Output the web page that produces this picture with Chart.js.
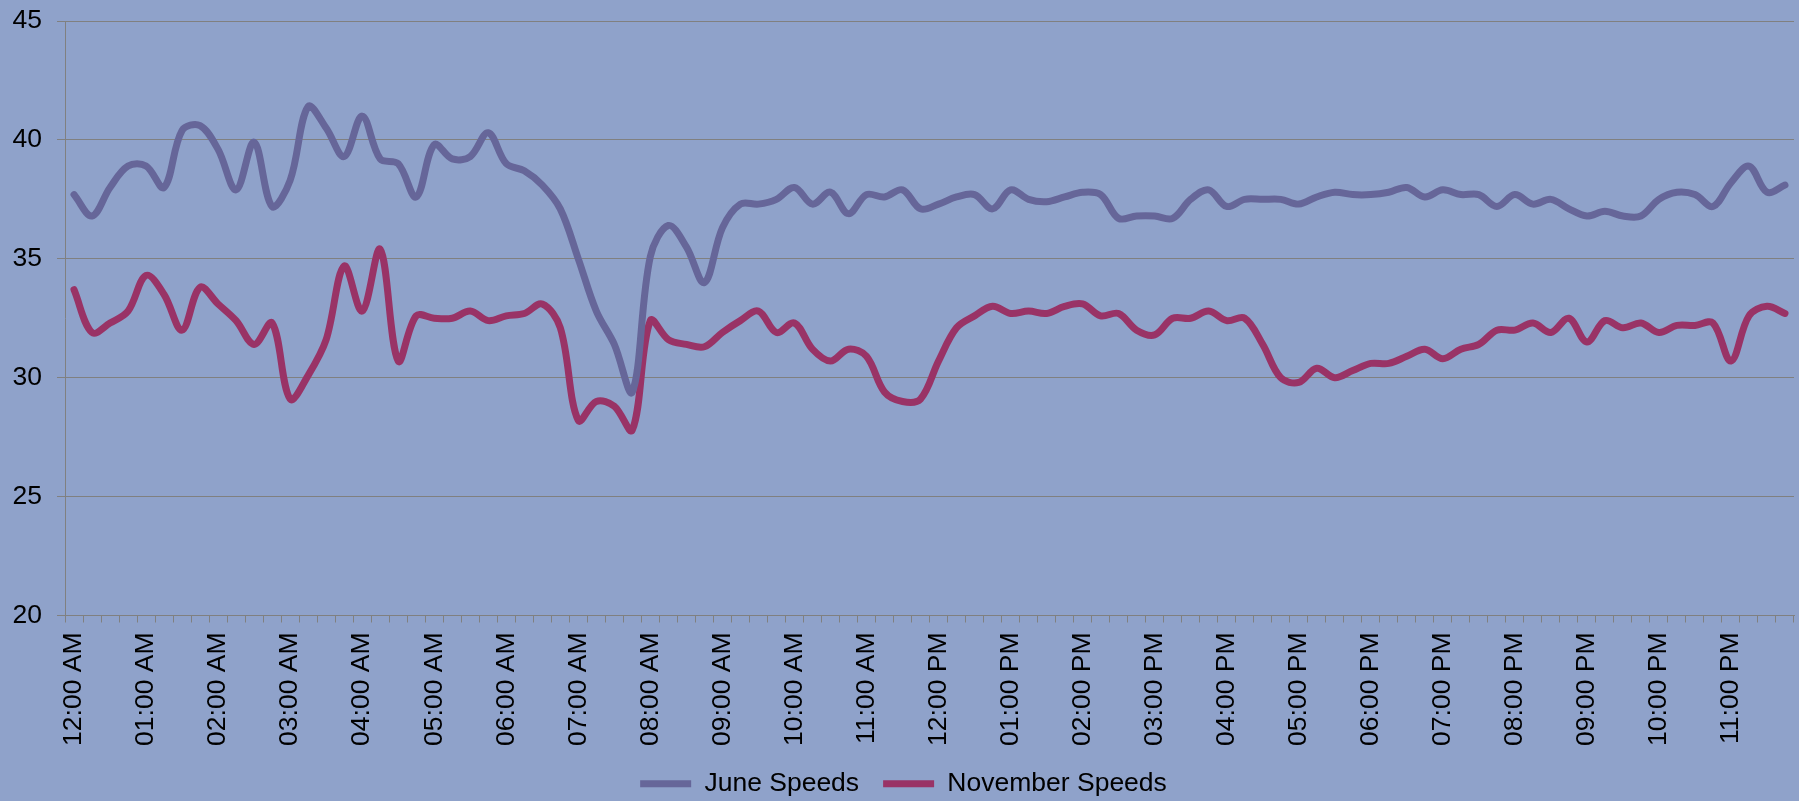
<!DOCTYPE html>
<html>
<head>
<meta charset="utf-8">
<script src="https://cdn.jsdelivr.net/npm/chart.js@4.4.1/dist/chart.umd.min.js"></script>
<style>
  html, body { margin: 0; padding: 0; background: #8fa2ca; }
  #speeds { display: block; }
</style>
</head>
<body>
<canvas id="speeds" width="1799" height="801"></canvas>
<script>
// hour labels shown on the x axis; data is every 15 minutes (4 points per hour)
const hourLabels = ['12:00 AM', '01:00 AM', '02:00 AM', '03:00 AM', '04:00 AM', '05:00 AM',
  '06:00 AM', '07:00 AM', '08:00 AM', '09:00 AM', '10:00 AM', '11:00 AM',
  '12:00 PM', '01:00 PM', '02:00 PM', '03:00 PM', '04:00 PM', '05:00 PM',
  '06:00 PM', '07:00 PM', '08:00 PM', '09:00 PM', '10:00 PM', '11:00 PM'];

const juneSpeeds = [
  37.7, 36.8, 38.0, 38.9, 38.9, 38.0, 40.4, 40.6, 39.6, 37.9,
  39.9, 37.2, 38.3, 41.4, 40.5, 39.3, 41.0, 39.2, 39.0, 37.6,
  39.8, 39.2, 39.3, 40.3, 39.0, 38.7, 38.1, 37.1, 35.0, 32.8,
  31.4, 29.4, 35.1, 36.4, 35.5, 34.0, 36.3, 37.3, 37.3, 37.5,
  38.0, 37.3, 37.8, 36.9, 37.7, 37.6, 37.9, 37.1, 37.3, 37.6,
  37.7, 37.1, 37.9, 37.5, 37.4, 37.6, 37.8, 37.7, 36.7, 36.8,
  36.8, 36.7, 37.5, 37.9, 37.2, 37.5, 37.5, 37.5, 37.3, 37.6,
  37.8, 37.7, 37.7, 37.8, 38.0, 37.6, 37.9, 37.7, 37.7, 37.2,
  37.7, 37.3, 37.5, 37.1, 36.8, 37.0, 36.8, 36.8, 37.5, 37.8,
  37.7, 37.2, 38.2, 38.9, 37.8, 38.1
];

const novemberSpeeds = [
  33.7, 31.9, 32.3, 32.8, 34.3, 33.5, 32.0, 33.8, 33.1, 32.4,
  31.4, 32.3, 29.1, 30.1, 31.6, 34.7, 32.8, 35.4, 30.7, 32.6,
  32.5, 32.5, 32.8, 32.4, 32.6, 32.7, 33.1, 32.1, 28.2, 29.0,
  28.8, 27.8, 32.4, 31.6, 31.4, 31.3, 31.9, 32.4, 32.8, 31.9,
  32.3, 31.2, 30.7, 31.2, 30.9, 29.4, 29.0, 29.1, 30.7, 32.1,
  32.6, 33.0, 32.7, 32.8, 32.7, 33.0, 33.1, 32.6, 32.7, 32.0,
  31.8, 32.5, 32.5, 32.8, 32.4, 32.5, 31.4, 30.0, 29.8, 30.4,
  30.0, 30.3, 30.6, 30.6, 30.9, 31.2, 30.8, 31.2, 31.4, 32.0,
  32.0, 32.3, 31.9, 32.5, 31.5, 32.4, 32.1, 32.3, 31.9, 32.2,
  32.2, 32.3, 30.7, 32.6, 33.0, 32.7
];

const yMin = 20, yMax = 45, yStep = 5;

// one category per quarter hour, only the full hour carries a label
const labels = hourLabels.flatMap(h => [h, '', '', '']);

const gridGray = '#808080';
const font = { family: '"Liberation Sans", Arial, sans-serif', size: 26.5 };

const speedsChart = new Chart(document.getElementById('speeds'), {
  type: 'line',
  data: {
    labels: labels,
    datasets: [{
      label: 'June Speeds',
      data: juneSpeeds,
      borderColor: '#666699',
      backgroundColor: '#666699',
      borderWidth: 7,
      borderCapStyle: 'round',
      borderJoinStyle: 'round',
      pointRadius: 0,
      pointStyle: 'line',
      tension: 0.35,
      fill: false
    }, {
      label: 'November Speeds',
      data: novemberSpeeds,
      borderColor: '#993366',
      backgroundColor: '#993366',
      borderWidth: 7,
      borderCapStyle: 'round',
      borderJoinStyle: 'round',
      pointRadius: 0,
      pointStyle: 'line',
      tension: 0.35,
      fill: false
    }]
  },
  options: {
    responsive: false,
    animation: false,
    devicePixelRatio: 1,
    layout: { padding: { left: 13, right: 5, top: 21, bottom: -6 } },
    plugins: {
      tooltip: { enabled: false },
      legend: {
        position: 'bottom',
        labels: {
          usePointStyle: true,
          pointStyle: 'line',
          pointStyleWidth: 51,
          color: '#000',
          font: font,
          padding: 24
        }
      }
    },
    scales: {
      x: {
        offset: true,
        border: { color: gridGray, width: 1 },
        grid: {
          offset: true,
          drawOnChartArea: false,
          drawTicks: true,
          tickLength: 7,
          color: gridGray
        },
        ticks: {
          autoSkip: false,
          minRotation: 90,
          maxRotation: 90,
          padding: 10,
          color: '#000',
          font: font
        },
        afterFit: (s) => { s.paddingLeft = 0; s.paddingRight = 0; s.height = 131; }
      },
      y: {
        min: yMin,
        max: yMax,
        border: { color: gridGray, width: 1 },
        grid: { color: gridGray, tickLength: 8, lineWidth: 1 },
        ticks: {
          stepSize: yStep,
          padding: 15,
          color: '#000',
          font: font
        },
        afterFit: (s) => { s.width = 52; s.paddingTop = 0; s.paddingBottom = 0; }
      }
    }
  }
});
</script>
</body>
</html>
